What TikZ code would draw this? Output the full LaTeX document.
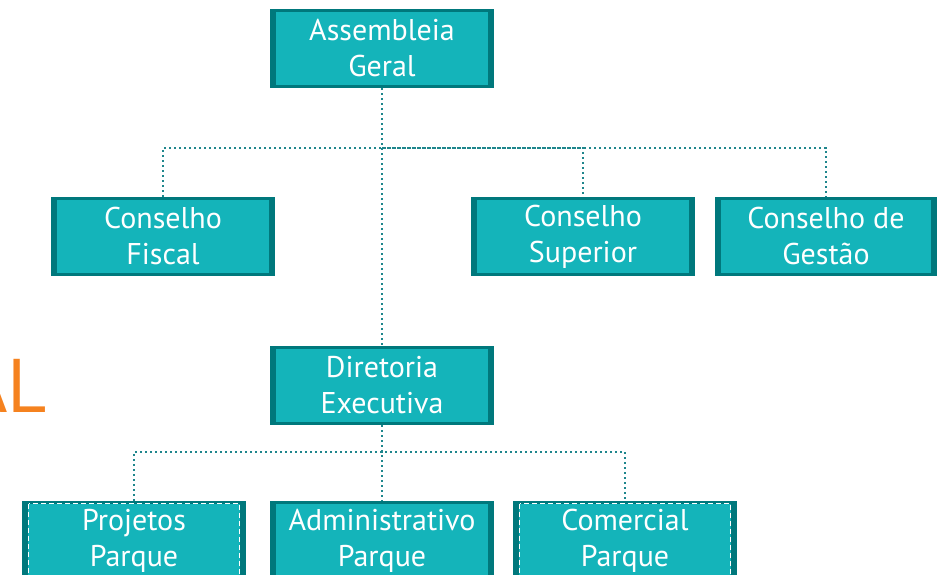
\documentclass[tikz,border=0pt]{standalone}
\usepackage{fontspec}
\setmainfont{PT Sans}
\usepackage{tikz}
\definecolor{teallight}{HTML}{14B4BA}
\definecolor{tealdark}{HTML}{00787C}
\definecolor{tealline}{HTML}{1E868C}
\definecolor{titleorange}{HTML}{F5821F}
\tikzset{
  orgbox/.style={fill=tealdark, minimum width=224pt, minimum height=79pt, inner sep=0pt,
    text=white, align=center, font=\fontsize{30}{36}\selectfont,
    path picture={\fill[teallight] ([xshift=6pt,yshift=-3pt]path picture bounding box.north west)
      rectangle ([xshift=-6pt,yshift=3pt]path picture bounding box.south east);}},
  dashbox/.style={orgbox,
    path picture={\fill[teallight] ([xshift=6pt,yshift=-3pt]path picture bounding box.north west)
      rectangle ([xshift=-6pt,yshift=3pt]path picture bounding box.south east);
      \draw[white, line width=1.2pt, dash pattern=on 5pt off 3pt] ([xshift=6.6pt,yshift=-2.6pt]path picture bounding box.north west)
      rectangle ([xshift=-6.6pt,yshift=2.6pt]path picture bounding box.south east);}},
  link/.style={tealline, line width=1.3pt, dash pattern=on 2pt off 3pt}
}
\begin{document}
\begin{tikzpicture}[x=1pt,y=-1pt]
\useasboundingbox (0,0) rectangle (938,575);
%%% Draws title
\node[text=titleorange, font=\fontsize{76}{76}\selectfont, anchor=south east, inner sep=0pt] (title) at (47,413) {AL};
%%% Draws top level
% draws boxes
\node[orgbox] (ag) at (382,48.5) {Assembleia\\Geral};
\node[orgbox] (cf) at (163,236.5) {Conselho\\Fiscal};
\node[orgbox] (cs) at (583,236.5) {Conselho\\Superior};
\node[orgbox, minimum width=222pt] (cg) at (826,236.5) {Conselho de\\Gestão};
\node[orgbox] (de) at (382,385.5) {Diretoria\\Executiva};
% draws links
\coordinate (busA) at (382,148);
\draw[link] (ag.south) -- (de.north);
\draw[link] (cf.north) |- (busA) -| (cg.north);
\draw[link] (busA) -| (cs.north);
%%% Draws bottom level
% draws boxes
\node[dashbox] (pp) at (134,540.5) {Projetos\\Parque};
\node[orgbox] (ap) at (382,540.5) {Administrativo\\Parque};
\node[dashbox] (cp) at (625,540.5) {Comercial\\Parque};
% draws links
\coordinate (busB) at (382,452);
\draw[link] (de.south) -- (ap.north);
\draw[link] (pp.north) |- (busB) -| (cp.north);
\end{tikzpicture}
\end{document}
